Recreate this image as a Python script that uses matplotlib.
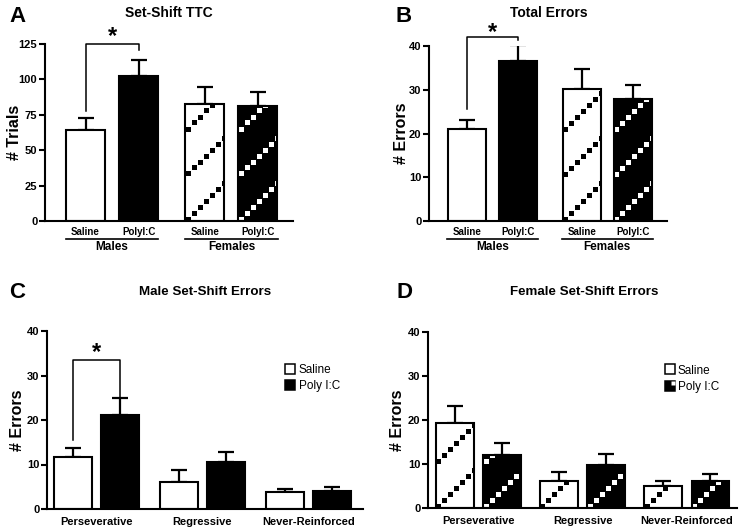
import numpy as np
import matplotlib
matplotlib.use("Agg")
import matplotlib.pyplot as plt
from matplotlib.lines import Line2D
from matplotlib.path import Path

plt.rcParams['font.family'] = ['Liberation Sans', 'DejaVu Sans']
plt.rcParams['font.weight'] = 'bold'

# Panel A / B: males then females, saline then poly I:C
group_names = ['Males', 'Females']
treat_labels = ['Saline', 'PolyI:C', 'Saline', 'PolyI:C']
ttc_mean = [64.5, 102.5, 82.5, 81.1]
ttc_err = [8.1, 11.4, 12.0, 10.1]
total_mean = [21.0, 36.5, 30.2, 27.9]
total_err = [2.1, 3.7, 4.5, 3.3]

# Panel C / D: error types
error_types = ['Perseverative', 'Regressive', 'Never-Reinforced']
male_saline = [11.75, 6.07, 3.74]
male_saline_err = [1.85, 2.8, 0.65]
male_poly = [21.2, 10.6, 4.1]
male_poly_err = [3.7, 2.1, 0.8]
female_saline = [19.4, 6.2, 5.0]
female_saline_err = [3.8, 1.9, 1.2]
female_poly = [12.0, 9.8, 6.2]
female_poly_err = [2.8, 2.5, 1.5]

W, H = 744, 532
fig = plt.figure(figsize=(W / 100, H / 100), dpi=100)


def px_axes(l, r, t, b):
    return fig.add_axes([l / W, 1 - b / H, (r - l) / W, (b - t) / H])


def style(ax, ymax, step, ylabel, lab_x):
    ax.set_ylim(0, ymax)
    ax.set_yticks(np.arange(0, ymax + 1, step))
    for s in ['top', 'right']:
        ax.spines[s].set_visible(False)
    for s in ['left', 'bottom']:
        ax.spines[s].set_linewidth(1.5)
    ax.tick_params(axis='y', length=4, width=1.5, pad=1.5, labelsize=8)
    ax.tick_params(axis='x', length=0, labelsize=8)
    ax.set_ylabel(ylabel, fontsize=11.5, fontweight='bold')
    ax.yaxis.set_label_coords(lab_x, 0.5)


def diag_pattern(ax, bar, sq_color):
    # dotted diagonal lines made of small squares, clipped to the bar
    (x0, y0), (x1, y1) = ax.transData.transform(
        [[bar.get_x(), 0], [bar.get_x() + bar.get_width(), bar.get_height()]])
    period, step = 45.0, 6.0
    pts = []
    for j in range(int((y1 - y0) / period) + 2):
        for k in range(int((x1 - x0) / step) + 2):
            pts.append((x0 + 2.5 + k * step, y0 + 2.5 + j * period + k * step))
    d = ax.transData.inverted().transform(pts)
    ln, = ax.plot(d[:, 0], d[:, 1], 's', ms=3.6, mew=0, color=sq_color, zorder=2)
    ln.set_clip_path(bar)


def draw_bars(ax, xs, vals, errs, width, fills, hatched):
    for x, v, e, fc, h in zip(xs, vals, errs, fills, hatched):
        ax.errorbar(x, v, yerr=[[0], [e]], color='black', elinewidth=1.6,
                    capsize=5.5, capthick=1.6, zorder=0.5)
        b = ax.bar(x, v, width, color=fc, edgecolor='none', zorder=1)[0]
        if h:
            diag_pattern(ax, b, 'white' if fc == 'black' else 'black')
        ax.bar(x, v, width, fill=False, edgecolor='black', linewidth=1.5, zorder=3)


def bracket(ax, x1, x2, top, y_left, y_right, star_y):
    ax.plot([x1, x1, x2, x2], [y_left, top, top, y_right], color='black',
            lw=1.1, clip_on=False, zorder=4)
    ax.text((x1 + x2) / 2, star_y, '*', ha='center', va='center', fontsize=17,
            fontweight='bold', clip_on=False)


def group_lines(ax, centers, half):
    tr = ax.get_xaxis_transform()
    for c, name in zip(centers, group_names):
        ax.plot([c - half, c + half], [-0.10, -0.10], color='black', lw=1.2,
                transform=tr, clip_on=False)
        ax.text(c, -0.148, name, transform=tr, ha='center', va='center',
                fontsize=8.5, fontweight='bold')


pos4 = [0, 1, 2.25, 3.25]
fills4 = ['white', 'black', 'white', 'black']
hatch4 = [False, False, True, True]
grp_c = [0.5, 2.75]

# ---- A
axA = px_axes(45, 293, 44, 221)
axA.set_xlim(-0.764, 3.91)
style(axA, 125, 25, '# Trials', -0.093)
draw_bars(axA, pos4, ttc_mean, ttc_err, 0.735, fills4, hatch4)
axA.set_xticks(pos4)
axA.set_xticklabels(treat_labels, fontsize=7)
axA.tick_params(axis='x', pad=4)
group_lines(axA, grp_c, 0.87)
bracket(axA, 0, 1, 125.3, 77.7, 121, 130.0)

# ---- B
axB = px_axes(429, 667, 46, 221)
axB.set_xlim(-0.738, 3.92)
style(axB, 40, 10, '# Errors', -0.084)
draw_bars(axB, pos4, total_mean, total_err, 0.74, fills4, hatch4)
axB.set_xticks(pos4)
axB.set_xticklabels(treat_labels, fontsize=7)
axB.tick_params(axis='x', pad=4)
group_lines(axB, grp_c, 0.89)
bracket(axB, 0, 1, 42.0, 25.7, 41.3, 43.0)

# ---- C
axC = px_axes(47, 363, 331, 509)
axC.set_xlim(-1.053, 5.66)
style(axC, 40, 10, '# Errors', -0.070)
gC = np.arange(3) * 2.25
draw_bars(axC, gC - 0.5, male_saline, male_saline_err, 0.81, ['white'] * 3, [False] * 3)
draw_bars(axC, gC + 0.5, male_poly, male_poly_err, 0.81, ['black'] * 3, [False] * 3)
axC.set_xticks(gC)
axC.set_xticklabels(error_types)
axC.tick_params(axis='x', pad=6)
bracket(axC, -0.5, 0.5, 33.5, 15.6, 23.4, 35.1)
hC = [Line2D([], [], marker='s', ls='', mfc='white', mec='black', ms=7.5, mew=1.1),
      Line2D([], [], marker='s', ls='', mfc='black', mec='black', ms=7.5, mew=1.1)]
axC.legend(hC, ['Saline', 'Poly I:C'], loc='upper left', bbox_to_anchor=(0.72, 0.875),
           frameon=False, handlelength=0.9, handletextpad=0.25, labelspacing=0.35,
           prop={'size': 8.5, 'weight': 'normal'})

# ---- D
axD = px_axes(428, 737, 332, 508)
axD.set_xlim(-1.064, 5.46)
style(axD, 40, 10, '# Errors', -0.074)
gD = np.arange(3) * 2.2
draw_bars(axD, gD - 0.5, female_saline, female_saline_err, 0.8, ['white'] * 3, [True] * 3)
draw_bars(axD, gD + 0.5, female_poly, female_poly_err, 0.8, ['black'] * 3, [True] * 3)
axD.set_xticks(gD)
axD.set_xticklabels(error_types)
axD.tick_params(axis='x', pad=6)
corner = Path([(0.12, 0.12), (0.45, 0.12), (0.45, 0.45), (0.12, 0.45), (0.12, 0.12)],
              [Path.MOVETO, Path.LINETO, Path.LINETO, Path.LINETO, Path.CLOSEPOLY])
hD = [Line2D([], [], marker='s', ls='', mfc='white', mec='black', ms=7.5, mew=1.1),
      (Line2D([], [], marker='s', ls='', mfc='black', mec='black', ms=7.5, mew=1.1),
       Line2D([], [], marker=corner, ls='', mfc='white', mec='none', ms=6.5))]
axD.legend(hD, ['Saline', 'Poly I:C'], loc='upper left', bbox_to_anchor=(0.73, 0.875),
           frameon=False, handlelength=0.9, handletextpad=0.25, labelspacing=0.35,
           prop={'size': 8.5, 'weight': 'normal'})

# titles and panel letters
for txt, x, y, fs in [('Set-Shift TTC', 169, 13, 10), ('Total Errors', 549, 13, 10),
                      ('Male Set-Shift Errors', 205, 292, 9.6),
                      ('Female Set-Shift Errors', 584, 292, 9.6)]:
    fig.text(x / W, 1 - y / H, txt, ha='center', va='center', fontsize=fs,
             fontweight='bold')
for txt, x, y in [('A', 17, 16), ('B', 404, 16), ('C', 17, 292), ('D', 404, 292)]:
    fig.text(x / W, 1 - y / H, txt, ha='center', va='center', fontsize=16,
             fontweight='bold')

fig.savefig('out.png', dpi=100)
